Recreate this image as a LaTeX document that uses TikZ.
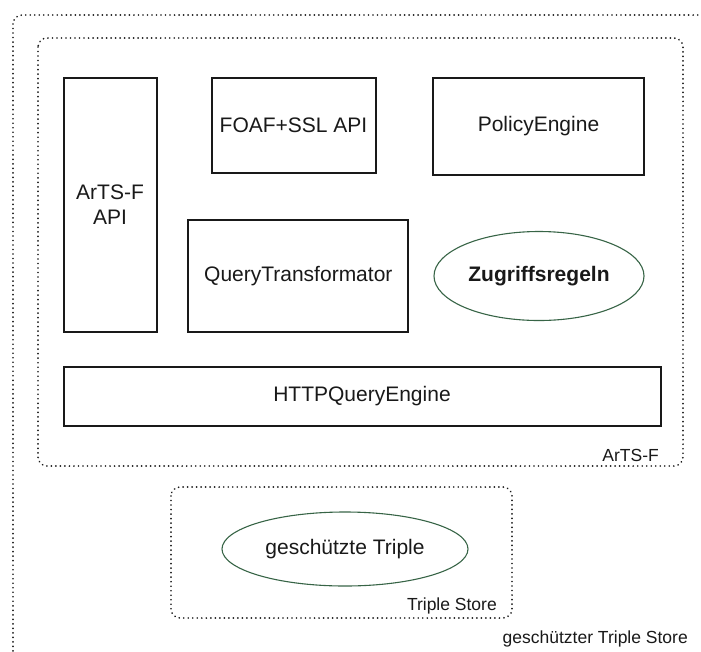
\documentclass[tikz,border=0pt]{standalone}
\usepackage{fontspec}
\setmainfont{Liberation Sans}
\usetikzlibrary{shapes.geometric}
\definecolor{textgray}{RGB}{25,25,25}
\definecolor{ellgreen}{RGB}{55,100,70}
\begin{document}
\begin{tikzpicture}[x=1pt, y=-1pt,
		comp/.style = {draw=textgray, line width=2pt, text=textgray, inner sep=0pt, font=\fontsize{21}{25}\selectfont, align=center},
		rule/.style = {draw=ellgreen, line width=1.1pt, ellipse, inner sep=0pt, text=textgray, font=\fontsize{21}{25}\selectfont},
		zone/.style = {draw=textgray, line width=1.9pt, dash pattern=on 0.01pt off 4.5pt, line cap=round, rounded corners=9pt},
		zonelabel/.style = {text=textgray, inner sep=0pt, font=\fontsize{17.5}{20}\selectfont, anchor=base east}]
		\useasboundingbox (0,0) rectangle (701,651);
		\clip (0,0) rectangle (701,651);
		% outer store and the ArTS-F frame
		\draw [zone] (13,15) rectangle (714,668);
		\draw [zone] (38,38) rectangle (683,466);
		\draw [zone] (171,487) rectangle (512,618);
		% components
		\node [comp, minimum width=93pt, minimum height=254pt] (api) at (110,205) {ArTS-F\\API};
		\node [comp, minimum width=164pt, minimum height=95pt] (foaf) at (293.5,125) {FOAF+SSL API};
		\node [comp, minimum width=211pt, minimum height=97pt] (policy) at (538.5,126.5) {PolicyEngine};
		\node [comp, minimum width=220pt, minimum height=112pt] (transf) at (298.3,276) {QueryTransformator};
		\node [comp, minimum width=597pt, minimum height=59pt] (http) at (362,396) {HTTPQueryEngine};
		\node [rule, minimum width=210pt, minimum height=89pt, font=\fontsize{21}{25}\selectfont\bfseries] (rules) at (539,276) {Zugriffsregeln};
		\node [rule, minimum width=246pt, minimum height=74pt] (triples) at (345,549) {geschützte Triple};
		% frame labels
		\node [zonelabel] (artsf) at (659,461) {ArTS-F};
		\node [zonelabel] (store) at (497,610) {Triple Store};
		\node [zonelabel] (protected) at (688,643) {geschützter Triple Store};
		%\node [zonelabel] at (400,500) {};
	\end{tikzpicture}
\end{document}
